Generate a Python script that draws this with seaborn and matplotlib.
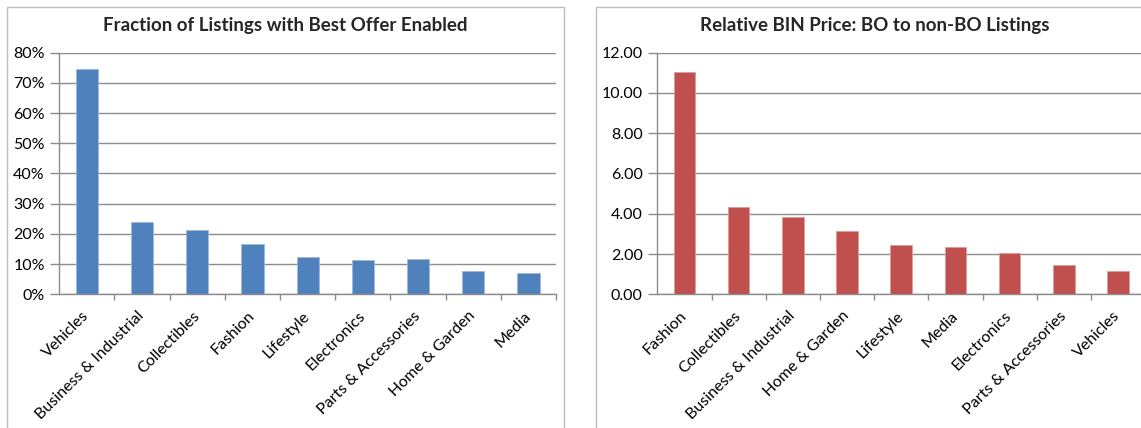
import matplotlib
matplotlib.use("Agg")

import pandas as pd
import matplotlib.pyplot as plt
import seaborn as sns
from matplotlib.patches import Rectangle
from matplotlib.ticker import FixedLocator, FuncFormatter

# left chart: share of listings with Best Offer (%)
bo_categories = ["Vehicles", "Business & Industrial", "Collectibles", "Fashion",
                 "Lifestyle", "Electronics", "Parts & Accessories", "Home & Garden", "Media"]
bo_share = [74.6, 24.0, 21.3, 16.5, 12.2, 11.3, 11.7, 7.7, 7.2]

# right chart: relative BIN price, BO vs non-BO
price_categories = ["Fashion", "Collectibles", "Business & Industrial", "Home & Garden",
                    "Lifestyle", "Media", "Electronics", "Parts & Accessories", "Vehicles"]
price_ratio = [11.06, 4.35, 3.84, 3.13, 2.43, 2.33, 2.04, 1.46, 1.17]

left_ticks = [0, 10, 20, 30, 40, 50, 60, 70, 80]
right_ticks = [0, 2, 4, 6, 8, 10, 12]

sns.set_theme(style="white")
plt.rcParams["font.family"] = ["Lato", "DejaVu Sans"]

W, H = 1141, 428
fig = plt.figure(figsize=(W / 100, H / 100), dpi=100)

GRID = "#8c8c8c"
BOX = "#bfbfbf"

# chart boxes like the spreadsheet frames
for x0 in (7, 596):
    fig.patches.append(Rectangle((x0 / W, -0.1), 557 / W, (H - 7) / H + 0.1,
                                 transform=fig.transFigure, fill=False,
                                 edgecolor=BOX, linewidth=1.0))


def style_axis(ax, ticks, fmt, top):
    ax.set_ylim(0, top)
    ax.yaxis.set_major_locator(FixedLocator(ticks))
    ax.yaxis.set_major_formatter(FuncFormatter(fmt))
    ax.grid(axis="y", color=GRID, linewidth=1.0)
    ax.set_axisbelow(True)
    for s in ("top", "right"):
        ax.spines[s].set_visible(False)
    for s in ("left", "bottom"):
        ax.spines[s].set_color(GRID)
        ax.spines[s].set_linewidth(1.0)
    n = 9
    ax.set_xlim(-0.5, n - 0.5)
    ax.set_xticks([i - 0.5 for i in range(1, n + 1)], minor=True)
    ax.tick_params(axis="x", which="major", length=0, labelsize=11.5, colors="black", pad=14)
    ax.tick_params(axis="x", which="minor", length=4, width=1, color=GRID, direction="out",
                   bottom=True)
    ax.tick_params(axis="y", length=6.5, width=1, color=GRID, direction="out", left=True,
                   labelsize=11.5, labelcolor="black", pad=4)
    for lab in ax.get_xticklabels():
        lab.set_rotation(45)
        lab.set_ha("right")
        lab.set_va("center")
        lab.set_rotation_mode("anchor")
    ax.set_xlabel("")
    ax.set_ylabel("")


ax1 = fig.add_axes([59.3 / W, 1 - 294.3 / H, 496.8 / W, 241.6 / H])
df1 = pd.DataFrame({"category": bo_categories, "share": bo_share})
sns.barplot(data=df1, x="category", y="share", color="#4f81bd", saturation=1,
            width=0.4, edgecolor="#9db9dc", linewidth=0.6, ax=ax1)
style_axis(ax1, left_ticks, lambda v, p: f"{v:.0f}%", 80)

ax2 = fig.add_axes([657.3 / W, 1 - 294.3 / H, 487.8 / W, 241.6 / H])
df2 = pd.DataFrame({"category": price_categories, "ratio": price_ratio})
sns.barplot(data=df2, x="category", y="ratio", color="#c0504d", saturation=1,
            width=0.4, edgecolor="#dd9c9a", linewidth=0.6, ax=ax2)
style_axis(ax2, right_ticks, lambda v, p: f"{v:.2f}", 12)

fig.text((7 + 557 / 2) / W, 1 - 26 / H, "Fraction of Listings with Best Offer Enabled",
         ha="center", va="center", fontsize=13.5, fontweight="bold")
fig.text((596 + 557 / 2) / W, 1 - 26 / H, "Relative BIN Price: BO to non-BO Listings",
         ha="center", va="center", fontsize=13.5, fontweight="bold")

fig.savefig("out.png", dpi=100)
plt.close(fig)
